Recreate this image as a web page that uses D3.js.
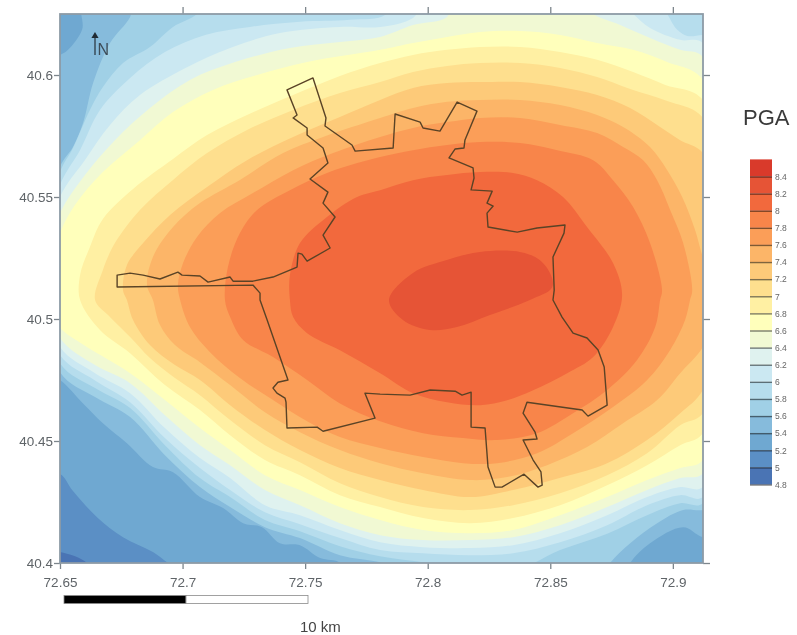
<!DOCTYPE html>
<html>
<head>
<meta charset="utf-8">
<script src="https://cdn.jsdelivr.net/npm/d3@7"></script>
<style>
body { margin: 0; background: #fff; }
svg { display: block; filter: blur(0.45px); font-family: "Liberation Sans", Arial, sans-serif; }
</style>
</head>
<body>
<svg></svg>
<script>
// tick labels
let lonTicks = [72.65, 72.7, 72.75, 72.8, 72.85, 72.9]
let latTicks = [40.4, 40.45, 40.5, 40.55, 40.6]
let legendTicks = [4.8, 5, 5.2, 5.4, 5.6, 5.8, 6, 6.2, 6.4, 6.6, 6.8, 7, 7.2, 7.4, 7.6, 7.8, 8, 8.2, 8.4]

// PGA bands, lower limit of each band and its colour
let bandLevels = [4.8, 5, 5.2, 5.4, 5.6, 5.8, 6, 6.2, 6.4, 6.6, 6.8, 7, 7.2, 7.4, 7.6, 7.8, 8, 8.2, 8.4]
let bandColors = ['#4a74b4', '#5b8fc5', '#6fa8d1', '#86bbdc', '#a0d0e6', '#b6dded', '#cbe8f2', '#dff2ef', '#f1f9d3',
    '#ffffbb', '#fff0a3', '#fedf8e', '#fdca79', '#fcb568', '#fb9e58', '#f8854a', '#f2693d', '#e65436', '#d93a2b']

// contour rings as [lon, lat], area above the level, some run outside the frame
let contour50 = [[72.65,40.4045],[72.661,40.4],[72.6643,40.393],[72.9274,40.393],[72.9274,40.6307],[72.6418,40.6307],[72.6418,40.4045]]
let contour52 = [[72.65,40.4365],[72.6553,40.4295],[72.6651,40.4188],[72.6757,40.4106],[72.6879,40.4045],[72.699,40.3975],[72.7071,40.4],[72.7092,40.393],[72.9274,40.393],[72.9274,40.6307],[72.6418,40.6307],[72.6418,40.4365]]
let contour54 = [[72.65,40.475],[72.6594,40.4654],[72.6675,40.4573],[72.6773,40.4491],[72.6879,40.4393],[72.6961,40.4372],[72.7071,40.427],[72.7165,40.4225],[72.7247,40.4163],[72.7324,40.4147],[72.7397,40.4081],[72.7479,40.4073],[72.7561,40.402],[72.7642,40.4],[72.7663,40.393],[72.88,40.393],[72.8826,40.4],[72.8907,40.4081],[72.9042,40.4147],[72.9123,40.4106],[72.9274,40.4094],[72.9274,40.6307],[72.6602,40.6307],[72.659,40.6185],[72.6533,40.6103],[72.65,40.6082],[72.6418,40.606],[72.6418,40.4791]]
let contour56 = [[72.65,40.4782],[72.6643,40.468],[72.6786,40.4598],[72.6928,40.4442],[72.7071,40.4311],[72.7194,40.4229],[72.7336,40.4147],[72.7479,40.4102],[72.7642,40.4032],[72.7806,40.4003],[72.7846,40.3987],[72.7887,40.393],[72.8703,40.393],[72.8744,40.4],[72.8826,40.4081],[72.8936,40.4163],[72.9042,40.4217],[72.9123,40.4217],[72.9274,40.4258],[72.9274,40.6307],[72.6802,40.6307],[72.6786,40.6238],[72.6704,40.6131],[72.6635,40.5967],[72.6594,40.5803],[72.6553,40.5705],[72.65,40.5623],[72.6418,40.518]]
let contour58 = [[72.65,40.4819],[72.6643,40.4717],[72.6786,40.4635],[72.6928,40.4483],[72.7071,40.4348],[72.7194,40.427],[72.7336,40.4176],[72.7479,40.413],[72.7642,40.4069],[72.7806,40.4028],[72.7981,40.4003],[72.8173,40.3971],[72.8377,40.3979],[72.854,40.4053],[72.8732,40.412],[72.8895,40.4196],[72.903,40.4245],[72.9123,40.4245],[72.9274,40.518],[72.9274,40.6307],[72.7092,40.6307],[72.7059,40.625],[72.6961,40.6197],[72.6867,40.6115],[72.6757,40.6049],[72.6675,40.5951],[72.6622,40.5857],[72.6553,40.5701],[72.65,40.5602],[72.6418,40.518]]
let contour60 = [[72.65,40.4852],[72.6643,40.4748],[72.6786,40.4659],[72.6928,40.4512],[72.7071,40.4389],[72.7194,40.4299],[72.7336,40.4208],[72.7479,40.4159],[72.7642,40.4102],[72.7806,40.4053],[72.7981,40.404],[72.8173,40.4032],[72.8348,40.404],[72.854,40.4085],[72.8732,40.4155],[72.8895,40.4237],[72.903,40.4278],[72.9123,40.427],[72.9274,40.518],[72.9274,40.6164],[72.9123,40.6164],[72.9059,40.616],[72.9018,40.6185],[72.8977,40.625],[72.8944,40.6307],[72.785,40.6307],[72.7826,40.6246],[72.7683,40.6226],[72.7479,40.6218],[72.7275,40.6197],[72.7092,40.6164],[72.6928,40.6094],[72.6786,40.5988],[72.6663,40.5857],[72.6582,40.5693],[72.65,40.5549],[72.6418,40.518]]
let contour62 = [[72.65,40.4885],[72.6643,40.4778],[72.6786,40.4696],[72.6928,40.4553],[72.7071,40.443],[72.7194,40.4348],[72.7336,40.4237],[72.7479,40.4196],[72.7642,40.4135],[72.7806,40.4085],[72.7981,40.4065],[72.8173,40.4061],[72.8348,40.4073],[72.854,40.4122],[72.8732,40.4196],[72.8895,40.427],[72.903,40.4311],[72.9123,40.4311],[72.9274,40.518],[72.9123,40.6131],[72.903,40.6144],[72.8907,40.6193],[72.8838,40.625],[72.878,40.6307],[72.8,40.6307],[72.794,40.6234],[72.7806,40.6197],[72.7642,40.6197],[72.7397,40.6172],[72.7194,40.6111],[72.7012,40.6029],[72.6826,40.5918],[72.6704,40.5795],[72.6602,40.5652],[72.65,40.55],[72.6418,40.518]]
let contour64 = [[72.65,40.4922],[72.6643,40.4811],[72.6786,40.4737],[72.6928,40.4606],[72.7071,40.4483],[72.7194,40.4401],[72.7336,40.4299],[72.7479,40.4237],[72.7642,40.4163],[72.7806,40.4114],[72.7981,40.4094],[72.8173,40.4094],[72.8348,40.4106],[72.854,40.4155],[72.8732,40.4229],[72.8895,40.4299],[72.903,40.4348],[72.9123,40.4368],[72.9274,40.518],[72.9123,40.6074],[72.903,40.6103],[72.8907,40.6152],[72.8785,40.6205],[72.8675,40.625],[72.862,40.6307],[72.81,40.6307],[72.8079,40.6238],[72.794,40.6205],[72.7806,40.6156],[72.7642,40.6135],[72.7438,40.6111],[72.7214,40.6053],[72.7030,40.598],[72.6867,40.5865],[72.6724,40.5733],[72.6602,40.559],[72.65,40.5434],[72.6418,40.518]]
let contour66 = [[72.6418,40.5078],[72.65,40.4963],[72.6602,40.489],[72.6786,40.4778],[72.6928,40.4668],[72.7071,40.4553],[72.7194,40.4463],[72.7336,40.4360],[72.7479,40.4299],[72.7642,40.4229],[72.7806,40.4176],[72.7981,40.4135],[72.8173,40.4122],[72.8348,40.4135],[72.854,40.4196],[72.8732,40.427],[72.8895,40.434],[72.903,40.4389],[72.9123,40.4422],[72.9274,40.518],[72.9123,40.598],[72.8977,40.6053],[72.8838,40.6103],[72.8691,40.6131],[72.854,40.6164],[72.8377,40.618],[72.8214,40.6176],[72.8079,40.6156],[72.794,40.6131],[72.7806,40.6103],[72.7508,40.6053],[72.7304,40.6],[72.7124,40.5939],[72.6961,40.5848],[72.6826,40.5733],[72.6675,40.5602],[72.6561,40.5467],[72.65,40.5352]]
let contour68 = [[72.6582,40.5078],[72.6663,40.4955],[72.6786,40.486],[72.6928,40.4729],[72.7071,40.4627],[72.7194,40.4524],[72.7336,40.4422],[72.7479,40.436],[72.7642,40.4278],[72.7806,40.4229],[72.7981,40.4184],[72.8173,40.4163],[72.8348,40.4184],[72.854,40.4237],[72.8732,40.4319],[72.8895,40.4401],[72.903,40.4483],[72.9123,40.4532],[72.9274,40.518],[72.9123,40.5898],[72.8969,40.5959],[72.8838,40.6012],[72.8691,40.6062],[72.854,40.6094],[72.8377,40.6115],[72.8214,40.6115],[72.8079,40.6103],[72.794,40.6082],[72.7806,40.6049],[72.7642,40.5996],[72.7451,40.5918],[72.7263,40.5836],[72.71,40.5754],[72.6961,40.5656],[72.6798,40.5533],[72.6675,40.5410],[72.6622,40.5295],[72.6582,40.518]]
let contour70 = [[72.6643,40.5078],[72.6696,40.5016],[72.6786,40.4926],[72.6867,40.484],[72.6969,40.4758],[72.7071,40.4688],[72.7194,40.4586],[72.7336,40.4483],[72.7479,40.4413],[72.7642,40.4327],[72.7806,40.427],[72.7981,40.4229],[72.8173,40.4217],[72.8348,40.4237],[72.854,40.4286],[72.8732,40.436],[72.8895,40.445],[72.903,40.4565],[72.9123,40.4614],[72.9274,40.52],[72.9123,40.5824],[72.8977,40.5893],[72.8826,40.5943],[72.8691,40.5992],[72.854,40.6029],[72.8377,40.6049],[72.8214,40.6049],[72.8079,40.6037],[72.794,40.6012],[72.7806,40.5971],[72.7642,40.5926],[72.7451,40.5857],[72.7263,40.5775],[72.71,40.568],[72.6961,40.557],[72.6826,40.5447],[72.6724,40.5311],[72.6675,40.5201]]
let contour72 = [[72.6773,40.5078],[72.6798,40.4996],[72.6867,40.4893],[72.6969,40.4811],[72.7071,40.475],[72.7194,40.4647],[72.7336,40.4545],[72.7479,40.4463],[72.7642,40.4389],[72.7806,40.434],[72.7981,40.4299],[72.8173,40.427],[72.8348,40.4299],[72.8552,40.4352],[72.8732,40.4409],[72.8895,40.4504],[72.903,40.4614],[72.9123,40.4709],[72.9274,40.52],[72.9123,40.568],[72.903,40.5733],[72.8948,40.5787],[72.8826,40.5865],[72.8691,40.5918],[72.854,40.5951],[72.8377,40.5971],[72.8214,40.5971],[72.8079,40.5967],[72.794,40.5947],[72.7806,40.5898],[72.7642,40.5828],[72.7451,40.5746],[72.7263,40.5651],[72.71,40.5541],[72.6949,40.5426],[72.6839,40.5311],[72.6773,40.5221],[72.6757,40.5118]]
let contour74 = [[72.6879,40.5078],[72.6908,40.4975],[72.6969,40.4893],[72.7071,40.4823],[72.7194,40.4729],[72.7336,40.4618],[72.7479,40.4536],[72.7642,40.4463],[72.7806,40.4409],[72.7981,40.4368],[72.8173,40.434],[72.8324,40.4352],[72.8487,40.4401],[72.865,40.4475],[72.8797,40.4573],[72.8936,40.4668],[72.903,40.4778],[72.9123,40.4885],[72.92,40.5078],[72.9123,40.5254],[72.9091,40.5364],[72.9038,40.55],[72.8977,40.561],[72.8907,40.5705],[72.8797,40.5787],[72.8691,40.5836],[72.854,40.5877],[72.8377,40.5898],[72.8214,40.5898],[72.8079,40.589],[72.794,40.5865],[72.7806,40.5824],[72.7573,40.5746],[72.741,40.568],[72.7234,40.557],[72.7071,40.5475],[72.6961,40.5377],[72.6879,40.5254],[72.6855,40.5139]]
let contour76 = [[72.699,40.5078],[72.703,40.4967],[72.7112,40.4864],[72.7234,40.4758],[72.7369,40.4668],[72.7508,40.4581],[72.7642,40.4516],[72.7806,40.4471],[72.7981,40.4434],[72.8144,40.4409],[72.8283,40.4409],[72.8446,40.445],[72.8593,40.4532],[72.8756,40.4639],[72.8895,40.475],[72.8989,40.4873],[72.905,40.4996],[72.907,40.5078],[72.9079,40.5118],[72.9042,40.5311],[72.8989,40.5447],[72.8936,40.5569],[72.8879,40.5651],[72.8797,40.5705],[72.8691,40.5762],[72.854,40.5795],[72.8377,40.5824],[72.8214,40.5824],[72.8079,40.5807],[72.794,40.5783],[72.7806,40.5746],[72.7614,40.568],[72.7451,40.561],[72.7287,40.5516],[72.7153,40.5434],[72.7059,40.5336],[72.7002,40.5229],[72.6981,40.5139]]
let contour78 = [[72.7173,40.5078],[72.7194,40.5008],[72.7247,40.4914],[72.7369,40.4844],[72.7508,40.475],[72.7642,40.4654],[72.7806,40.4581],[72.7981,40.4532],[72.8144,40.4512],[72.8283,40.4504],[72.8446,40.4532],[72.8593,40.4614],[72.8732,40.4709],[72.8854,40.4832],[72.8928,40.4967],[72.8948,40.5078],[72.8956,40.5118],[72.8907,40.5311],[72.8838,40.5459],[72.8756,40.5569],[72.8675,40.5651],[72.8528,40.5692],[72.8377,40.5721],[72.8214,40.5725],[72.8079,40.5713],[72.794,40.5692],[72.7806,40.5664],[72.7712,40.5639],[72.7589,40.5598],[72.7438,40.5528],[72.7304,40.5447],[72.7234,40.5352],[72.7185,40.5213]]
let contour80 = [[72.7438,40.5077],[72.7451,40.5008],[72.7508,40.4942],[72.7642,40.4872],[72.7806,40.4778],[72.794,40.4696],[72.8079,40.4659],[72.8214,40.4647],[72.8324,40.4667],[72.843,40.4708],[72.8569,40.4778],[72.8675,40.4844],[72.8756,40.4967],[72.8793,40.5098],[72.8756,40.5229],[72.865,40.5377],[72.8552,40.55],[72.8446,40.5569],[72.8348,40.5598],[72.8214,40.5602],[72.8079,40.559],[72.794,40.5569],[72.7806,40.5528],[72.7712,40.55],[72.7589,40.5418],[72.7479,40.5311],[72.7438,40.518]]
let contour82 = [[72.7842,40.5078],[72.794,40.5189],[72.8078,40.5242],[72.8213,40.5275],[72.8376,40.5275],[72.8457,40.5242],[72.8506,40.5172],[72.8506,40.5127],[72.8417,40.5078],[72.8254,40.5016],[72.8119,40.4967],[72.8009,40.4955],[72.7899,40.4996]]

// city boundary as [lon, lat]
let boundary = [[72.6733,40.518],[72.6786,40.5188],[72.6839,40.518],[72.6908,40.5164],[72.6981,40.5192],[72.6998,40.518],[72.7071,40.5176],[72.7104,40.5151],[72.7194,40.5172],[72.7206,40.5155],[72.7287,40.5155],[72.7369,40.5172],[72.7467,40.5213],[72.7471,40.527],[72.7487,40.5266],[72.7508,40.5237],[72.7602,40.5291],[72.7573,40.5344],[72.7622,40.5418],[72.7573,40.5475],[72.7593,40.552],[72.752,40.5574],[72.7593,40.5639],[72.7573,40.5701],[72.7508,40.5754],[72.7508,40.5783],[72.7451,40.5824],[72.7467,40.5836],[72.7426,40.5939],[72.7532,40.5988],[72.7585,40.5824],[72.7581,40.5791],[72.7691,40.5713],[72.7704,40.5688],[72.7859,40.5701],[72.7867,40.584],[72.7969,40.5807],[72.7981,40.5783],[72.805,40.577],[72.812,40.5889],[72.8201,40.5852],[72.8152,40.5734],[72.8148,40.5701],[72.8112,40.5697],[72.8087,40.566],[72.8185,40.5619],[72.8189,40.5578],[72.8177,40.5529],[72.8263,40.5524],[72.8242,40.5475],[72.8267,40.5463],[72.8242,40.5434],[72.8246,40.5377],[72.8365,40.5356],[72.8446,40.5373],[72.856,40.5385],[72.8556,40.5352],[72.8511,40.5254],[72.8516,40.5118],[72.8511,40.5078],[72.8548,40.5008],[72.8593,40.4942],[72.865,40.4922],[72.8695,40.4873],[72.872,40.4803],[72.8732,40.4647],[72.8654,40.4602],[72.863,40.4627],[72.8405,40.4659],[72.8389,40.4614],[72.8438,40.4536],[72.8446,40.4508],[72.8389,40.4504],[72.843,40.4422],[72.8462,40.4373],[72.8467,40.4319],[72.845,40.4311],[72.8393,40.4364],[72.8303,40.4311],[72.8275,40.4311],[72.8246,40.4393],[72.8234,40.4553],[72.8177,40.4557],[72.8177,40.47],[72.814,40.4688],[72.8112,40.4704],[72.801,40.4709],[72.7928,40.4688],[72.7806,40.4692],[72.7744,40.4696],[72.7785,40.4594],[72.7573,40.454],[72.7549,40.4557],[72.7426,40.4553],[72.7422,40.4659],[72.7418,40.4676],[72.7385,40.4696],[72.7369,40.4717],[72.7389,40.4741],[72.743,40.475],[72.7345,40.4996],[72.7316,40.5078],[72.7316,40.5106],[72.7287,40.5139],[72.6733,40.5131]]

// scale bar stops in km
let scaleStops = [0, 5, 10]

let contours = [contour50, contour52, contour54, contour56, contour58, contour60, contour62, contour64, contour66,
    contour68, contour70, contour72, contour74, contour76, contour78, contour80, contour82]

let width = 797
let height = 635
let left = 60
let right = 703
let top_ = 14
let bottom = 563

let svg = d3.select('svg').attr('width', width).attr('height', height)

let xScale = d3.scaleLinear().domain([72.65, 72.9123]).range([left, right])
let yScale = d3.scaleLinear().domain([40.4, 40.625]).range([bottom, top_])

svg.append('clipPath').attr('id', 'plot')
    .append('rect')
    .attr('x', left).attr('y', top_)
    .attr('width', right - left).attr('height', bottom - top_)

let map = svg.append('g').attr('clip-path', 'url(#plot)')

// lowest band fills the frame, each level is painted over it
map.append('rect')
    .attr('x', left).attr('y', top_)
    .attr('width', right - left).attr('height', bottom - top_)
    .attr('fill', bandColors[0])

let ringLine = d3.line()
    .x((d) => xScale(d[0]))
    .y((d) => yScale(d[1]))
    .curve(d3.curveCatmullRomClosed.alpha(0.5))

map.selectAll('path.band')
    .data(contours)
    .enter()
    .append('path')
    .attr('class', 'band')
    .attr('d', ringLine)
    .attr('fill', (d, i) => bandColors[i + 1])

let boundaryLine = d3.line()
    .x((d) => xScale(d[0]))
    .y((d) => yScale(d[1]))
    .curve(d3.curveLinearClosed)

map.append('path')
    .attr('d', boundaryLine(boundary))
    .attr('fill', 'none')
    .attr('stroke', '#5a4326')
    .attr('stroke-width', 1.4)
    .attr('stroke-linejoin', 'round')

// axes
let styleAxis = (g) => {
    g.select('.domain').remove()
    g.selectAll('line').attr('stroke', '#7d868c').attr('stroke-width', 1.3)
    g.selectAll('text').attr('fill', '#5f6468').attr('font-size', 13.5)
}

svg.append('g')
    .attr('transform', 'translate(0,' + bottom + ')')
    .call(d3.axisBottom(xScale).tickValues(lonTicks).tickFormat(String).tickSize(6).tickPadding(8))
    .call(styleAxis)

svg.append('g')
    .attr('transform', 'translate(' + left + ',0)')
    .call(d3.axisLeft(yScale).tickValues(latTicks).tickFormat(String).tickSize(6).tickPadding(1))
    .call(styleAxis)

svg.append('g')
    .attr('transform', 'translate(0,' + top_ + ')')
    .call(d3.axisTop(xScale).tickValues(lonTicks.slice(1)).tickFormat('').tickSize(7))
    .call(styleAxis)

svg.append('g')
    .attr('transform', 'translate(' + right + ',0)')
    .call(d3.axisRight(yScale).tickValues(latTicks).tickFormat('').tickSize(7))
    .call(styleAxis)

svg.append('rect')
    .attr('x', left).attr('y', top_)
    .attr('width', right - left).attr('height', bottom - top_)
    .attr('fill', 'none')
    .attr('stroke', '#8d9ba6')
    .attr('stroke-width', 1.8)

// north arrow
svg.append('line')
    .attr('x1', 95).attr('x2', 95).attr('y1', 55).attr('y2', 36)
    .attr('stroke', '#2d3b46').attr('stroke-width', 1.3)
svg.append('path')
    .attr('d', d3.symbol(d3.symbolTriangle, 22))
    .attr('transform', 'translate(95,36)')
    .attr('fill', '#1f2a33')
svg.append('text')
    .attr('x', 97.5).attr('y', 54.5)
    .attr('font-size', 16)
    .attr('fill', '#3d4c58')
    .text('N')

// scale bar
let barScale = d3.scaleLinear().domain([0, 10]).range([64, 308])
svg.selectAll('rect.bar')
    .data(d3.pairs(scaleStops))
    .enter()
    .append('rect')
    .attr('class', 'bar')
    .attr('x', (d) => barScale(d[0]))
    .attr('y', 595.5)
    .attr('width', (d) => barScale(d[1]) - barScale(d[0]))
    .attr('height', 8)
    .attr('fill', (d, i) => i == 0 ? '#000' : '#fff')
    .attr('stroke', '#8a8a8a')
    .attr('stroke-width', 0.8)
svg.append('text')
    .attr('x', 300).attr('y', 632)
    .attr('font-size', 15)
    .attr('fill', '#444')
    .text('10 km')

// legend
let legendScale = d3.scaleLinear().domain([4.8, 8.4]).range([484.5, 176.5])
svg.selectAll('rect.legend')
    .data(bandLevels)
    .enter()
    .append('rect')
    .attr('class', 'legend')
    .attr('x', 750)
    .attr('y', (d) => legendScale(d + 0.2))
    .attr('width', 22)
    .attr('height', (d) => legendScale(d) - legendScale(d + 0.2))
    .attr('fill', (d, i) => bandColors[i])

svg.append('g')
    .attr('transform', 'translate(772,0)')
    .call(d3.axisRight(legendScale).tickValues(legendTicks).tickFormat(String).tickSizeInner(-22).tickSizeOuter(0).tickPadding(3))
    .call((g) => {
        g.select('.domain').remove()
        g.selectAll('line').attr('stroke', '#000').attr('stroke-opacity', 0.5).attr('stroke-width', 1.4)
        g.selectAll('text').attr('fill', '#666').attr('font-size', 8.5)
    })

svg.append('text')
    .attr('x', 743).attr('y', 124.5)
    .attr('font-size', 22)
    .attr('fill', '#3a3a3a')
    .text('PGA')
</script>
</body>
</html>
